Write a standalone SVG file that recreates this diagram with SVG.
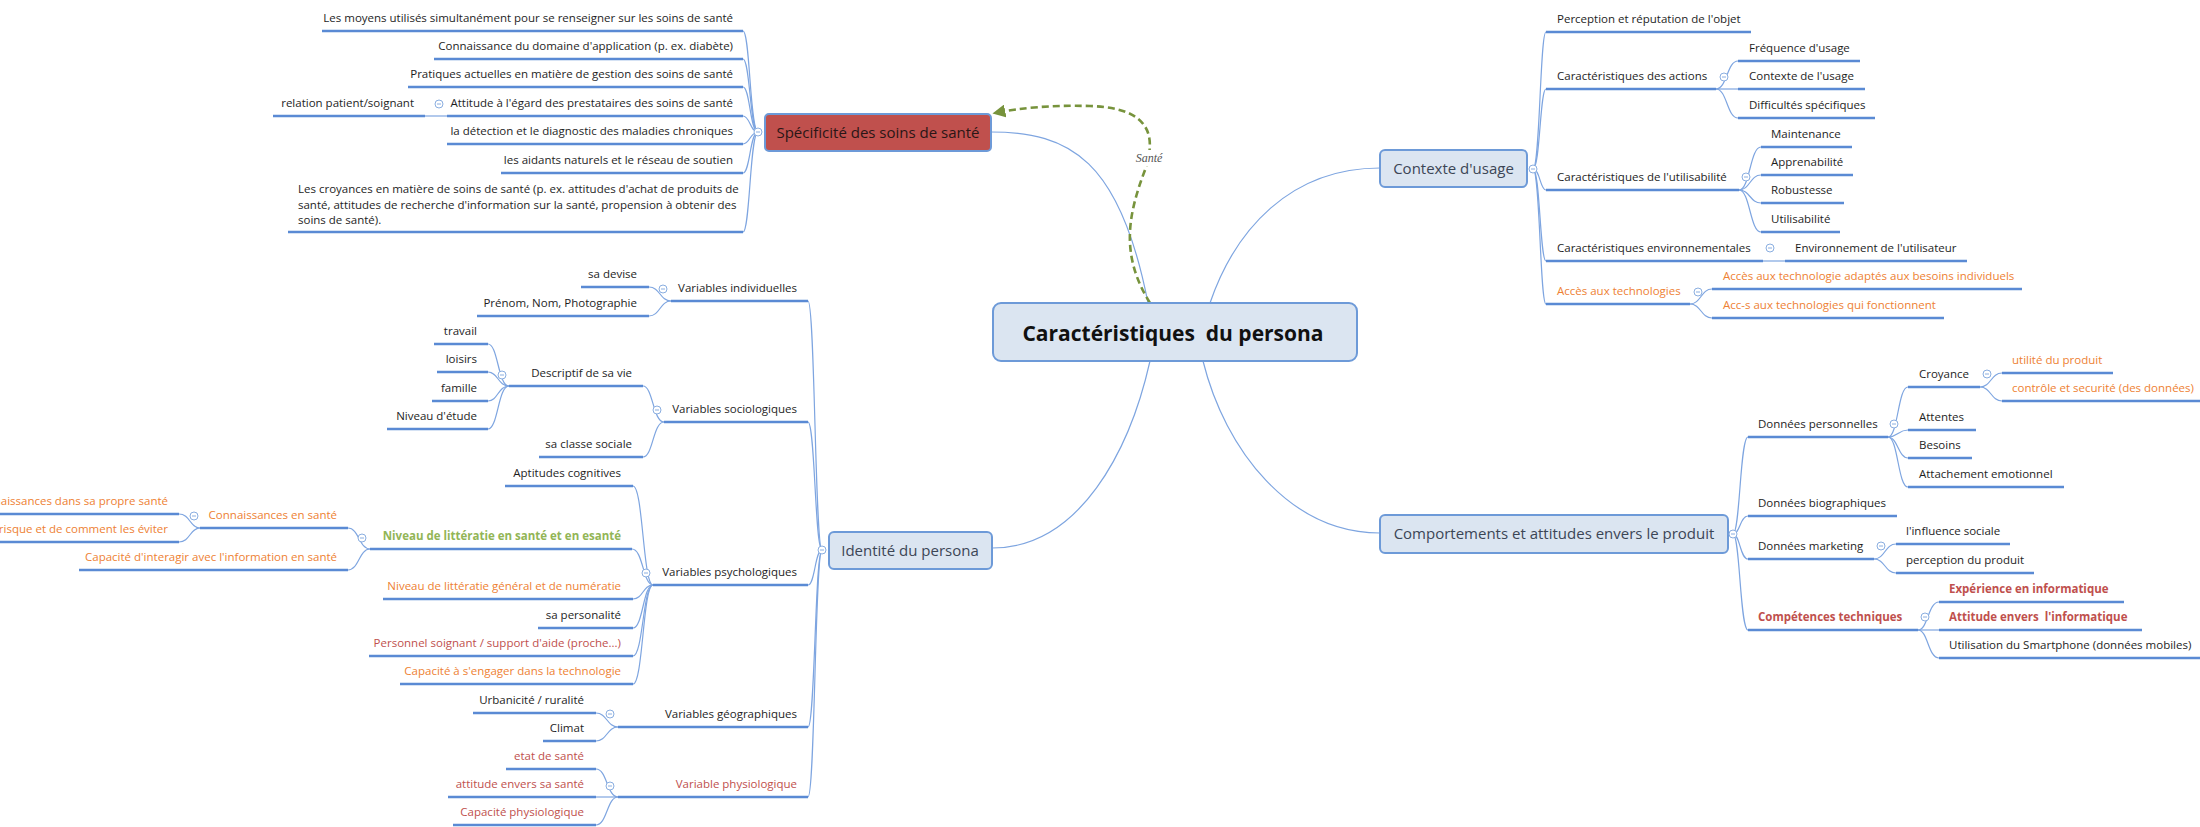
<svg xmlns="http://www.w3.org/2000/svg" width="2200" height="827" viewBox="0 0 2200 827">
<style>
text{font-family:"Open Sans","Noto Sans",sans-serif;font-size:11.5px;fill:#1e1e1e}
.e{text-anchor:end}
.m{text-anchor:middle;font-size:15px;fill:#3c4656}
.o{fill:#ee8133}
.r{fill:#c0504d}
.g{fill:#92b556;font-weight:bold}
.rb{fill:#c0504d;font-weight:bold}
.u{stroke:#5a8ad4;stroke-width:2.6;fill:none}
.c{stroke:#7ea5e0;stroke-width:1.2;fill:none}
.box{fill:#dbe5f1;stroke:#6d9ad8;stroke-width:2}
.k{fill:#fff;stroke:#8aaee0;stroke-width:1}
.title{font-size:21px;font-weight:bold;fill:#111;text-anchor:middle;white-space:pre}
.lbl{font-family:"Liberation Serif",serif;font-style:italic;font-size:12px;fill:#555;text-anchor:middle}
</style>
<defs>
<g id="col"><circle class="k" r="4"/><path d="M-2,0h4" stroke="#8aaee0" stroke-width="1"/></g>
<marker id="ah" viewBox="0 0 10 10" refX="8" refY="5" markerWidth="5" markerHeight="5" orient="auto-start-reverse" markerUnits="strokeWidth">
<path d="M0,0L10,5L0,10z" fill="#77933c"/>
</marker>
</defs>
<rect width="2200" height="827" fill="#fff"/>

<g id="connectors">
<path class="c" d="M1148,303C1120,160 1070,132 991,132"/>
<path class="c" d="M1210,303C1235,230 1290,168 1380,168"/>
<path class="c" d="M1150,361C1130,450 1080,548 992,548"/>
<path class="c" d="M1203,361C1225,450 1290,533 1380,533"/>
<path class="c" d="M758,132C750,132 750,31 743,31"/>
<path class="c" d="M758,132C750,132 750,59 743,59"/>
<path class="c" d="M758,132C750,132 750,87 743,87"/>
<path class="c" d="M758,132C750,132 750,116 743,116"/>
<path class="c" d="M758,132C750,132 750,144 743,144"/>
<path class="c" d="M758,132C750,132 750,173 743,173"/>
<path class="c" d="M758,132C750,132 750,232 743,232"/>
<path class="c" d="M447,116L425,116"/>
<path class="c" d="M822,550C815,550 815,301 808,301"/>
<path class="c" d="M822,550C815,550 815,422 808,422"/>
<path class="c" d="M822,550C815,550 815,585 808,585"/>
<path class="c" d="M822,550C815,550 815,727 808,727"/>
<path class="c" d="M822,550C815,550 815,797 808,797"/>
<path class="c" d="M671,301C660,301 660,287 649,287"/>
<path class="c" d="M671,301C660,301 660,316 649,316"/>
<path class="c" d="M664,422C653,422 653,386 643,386"/>
<path class="c" d="M664,422C653,422 653,457 643,457"/>
<path class="c" d="M509,386C498,386 498,344 488,344"/>
<path class="c" d="M509,386C498,386 498,372 488,372"/>
<path class="c" d="M509,386C498,386 498,401 488,401"/>
<path class="c" d="M509,386C498,386 498,429 488,429"/>
<path class="c" d="M653,585C643,585 643,486 633,486"/>
<path class="c" d="M653,585C643,585 643,549 632,549"/>
<path class="c" d="M653,585C643,585 643,599 633,599"/>
<path class="c" d="M653,585C643,585 643,628 633,628"/>
<path class="c" d="M653,585C643,585 643,656 633,656"/>
<path class="c" d="M653,585C643,585 643,684 633,684"/>
<path class="c" d="M370,549C359,549 359,528 348,528"/>
<path class="c" d="M370,549C359,549 359,570 348,570"/>
<path class="c" d="M200,528C190,528 190,514 179,514"/>
<path class="c" d="M200,528C190,528 190,542 179,542"/>
<path class="c" d="M618,727C607,727 607,713 596,713"/>
<path class="c" d="M618,727C607,727 607,741 596,741"/>
<path class="c" d="M618,797C607,797 607,769 596,769"/>
<path class="c" d="M618,797L596,797"/>
<path class="c" d="M618,797C607,797 607,825 596,825"/>
<path class="c" d="M1533,169C1540,169 1540,32 1546,32"/>
<path class="c" d="M1533,169C1540,169 1540,89 1546,89"/>
<path class="c" d="M1533,169C1540,169 1540,190 1546,190"/>
<path class="c" d="M1533,169C1540,169 1540,261 1546,261"/>
<path class="c" d="M1533,169C1540,169 1540,304 1546,304"/>
<path class="c" d="M1716,89C1727,89 1727,61 1738,61"/>
<path class="c" d="M1716,89L1738,89"/>
<path class="c" d="M1716,89C1727,89 1727,118 1738,118"/>
<path class="c" d="M1739,190C1750,190 1750,147 1761,147"/>
<path class="c" d="M1739,190C1750,190 1750,175 1761,175"/>
<path class="c" d="M1739,190C1750,190 1750,203 1761,203"/>
<path class="c" d="M1739,190C1750,190 1750,232 1761,232"/>
<path class="c" d="M1763,261L1785,261"/>
<path class="c" d="M1690,304C1701,304 1701,289 1712,289"/>
<path class="c" d="M1690,304C1701,304 1701,318 1712,318"/>
<path class="c" d="M1733,534C1740,534 1740,437 1748,437"/>
<path class="c" d="M1733,534C1740,534 1740,516 1748,516"/>
<path class="c" d="M1733,534C1740,534 1740,559 1748,559"/>
<path class="c" d="M1733,534C1740,534 1740,630 1748,630"/>
<path class="c" d="M1888,437C1898,437 1898,387 1908,387"/>
<path class="c" d="M1888,437C1898,437 1898,430 1908,430"/>
<path class="c" d="M1888,437C1898,437 1898,458 1908,458"/>
<path class="c" d="M1888,437C1898,437 1898,487 1908,487"/>
<path class="c" d="M1980,387C1991,387 1991,373 2002,373"/>
<path class="c" d="M1980,387C1991,387 1991,401 2002,401"/>
<path class="c" d="M1874,559C1885,559 1885,544 1896,544"/>
<path class="c" d="M1874,559C1885,559 1885,573 1896,573"/>
<path class="c" d="M1918,630C1928,630 1928,602 1939,602"/>
<path class="c" d="M1918,630L1939,630"/>
<path class="c" d="M1918,630C1928,630 1928,658 1939,658"/>
<path d="M1150,303C1120,255 1128,215 1145,170C1155,140 1155,108 1090,106C1050,105 1020,108 995,113" fill="none" stroke="#77933c" stroke-width="2.6" stroke-dasharray="7,4" marker-end="url(#ah)"/>
<rect x="1130" y="150" width="38" height="16" fill="#fff"/>
<text class="lbl" x="1149" y="162">Santé</text>
</g>

<g id="n-central">
<rect x="993" y="303" width="364" height="58" rx="8" class="box"/>
<text class="title" x="1173" y="341">Caractéristiques  du persona</text>
</g>

<g id="n-specificite">
<rect x="765" y="114" width="226" height="37" rx="4" fill="#c0504d" stroke="#6d9ad8" stroke-width="2"/>
<text class="m" x="878" y="137.5" style="fill:#2a1616">Spécificité des soins de santé</text>
<use href="#col" x="758" y="132"/>
</g>
<g id="n-s1"><path class="u" d="M322,31H743"/><text class="e" x="733" y="22">Les moyens utilisés simultanément pour se renseigner sur les soins de santé</text></g>
<g id="n-s2"><path class="u" d="M434,59H743"/><text class="e" x="733" y="50">Connaissance du domaine d'application (p. ex. diabète)</text></g>
<g id="n-s3"><path class="u" d="M408,87H743"/><text class="e" x="733" y="78">Pratiques actuelles en matière de gestion des soins de santé</text></g>
<g id="n-s4"><path class="u" d="M447,116H743"/><text class="e" x="733" y="107">Attitude à l'égard des prestataires des soins de santé</text><use href="#col" x="439" y="104"/></g>
<g id="n-s4a"><path class="u" d="M273,116H425"/><text class="e" x="414" y="107">relation patient/soignant</text></g>
<g id="n-s5"><path class="u" d="M447,144H743"/><text class="e" x="733" y="135">la détection et le diagnostic des maladies chroniques</text></g>
<g id="n-s6"><path class="u" d="M501,173H743"/><text class="e" x="733" y="164">les aidants naturels et le réseau de soutien</text></g>
<g id="n-s7"><path class="u" d="M288,232H743"/>
<text x="298" y="193">Les croyances en matière de soins de santé (p. ex. attitudes d'achat de produits de</text>
<text x="298" y="208.5">santé, attitudes de recherche d'information sur la santé, propension à obtenir des</text>
<text x="298" y="224">soins de santé).</text></g>

<g id="n-identite">
<rect x="829" y="532" width="163" height="37" rx="5" class="box"/>
<text class="m" x="910" y="555.5">Identité du persona</text>
<use href="#col" x="822" y="550"/>
</g>
<g id="n-vind"><path class="u" d="M671,301H808"/><text class="e" x="797" y="292">Variables individuelles</text><use href="#col" x="663" y="289"/></g>
<g id="n-devise"><path class="u" d="M581,287H649"/><text class="e" x="637" y="278">sa devise</text></g>
<g id="n-prenom"><path class="u" d="M477,316H649"/><text class="e" x="637" y="307">Prénom, Nom, Photographie</text></g>
<g id="n-vsoc"><path class="u" d="M664,422H808"/><text class="e" x="797" y="413">Variables sociologiques</text><use href="#col" x="657" y="410"/></g>
<g id="n-descr"><path class="u" d="M509,386H643"/><text class="e" x="632" y="377">Descriptif de sa vie</text><use href="#col" x="502" y="375"/></g>
<g id="n-travail"><path class="u" d="M434,344H488"/><text class="e" x="477" y="335">travail</text></g>
<g id="n-loisirs"><path class="u" d="M437,372H488"/><text class="e" x="477" y="363">loisirs</text></g>
<g id="n-famille"><path class="u" d="M432,401H488"/><text class="e" x="477" y="392">famille</text></g>
<g id="n-etude"><path class="u" d="M387,429H488"/><text class="e" x="477" y="420">Niveau d'étude</text></g>
<g id="n-classe"><path class="u" d="M539,457H643"/><text class="e" x="632" y="448">sa classe sociale</text></g>
<g id="n-vpsy"><path class="u" d="M653,585H808"/><text class="e" x="797" y="576">Variables psychologiques</text><use href="#col" x="646" y="573"/></g>
<g id="n-aptitudes"><path class="u" d="M505,486H633"/><text class="e" x="621" y="477">Aptitudes cognitives</text></g>
<g id="n-niveau"><path class="u" d="M370,549H632"/><text class="e g" x="621" y="540">Niveau de littératie en santé et en esanté</text><use href="#col" x="362" y="538"/></g>
<g id="n-connsante"><path class="u" d="M200,528H348"/><text class="e o" x="337" y="519">Connaissances en santé</text><use href="#col" x="194" y="516"/></g>
<g id="n-conn1"><path class="u" d="M0,514H179"/><text class="e o" x="168" y="505">Connaissances dans sa propre santé</text></g>
<g id="n-conn2"><path class="u" d="M0,542H179"/><text class="e o" x="168" y="533">Connaissance des facteurs de risque et de comment les éviter</text></g>
<g id="n-interagir"><path class="u" d="M79,570H348"/><text class="e o" x="337" y="561">Capacité d'interagir avec l'information en santé</text></g>
<g id="n-numeratie"><path class="u" d="M383,599H633"/><text class="e o" x="621" y="590">Niveau de littératie général et de numératie</text></g>
<g id="n-perso"><path class="u" d="M538,628H633"/><text class="e" x="621" y="619">sa personalité</text></g>
<g id="n-soignant"><path class="u" d="M369,656H633"/><text class="e r" x="621" y="647">Personnel soignant / support d'aide (proche...)</text></g>
<g id="n-engager"><path class="u" d="M400,684H633"/><text class="e o" x="621" y="675">Capacité à s'engager dans la technologie</text></g>
<g id="n-vgeo"><path class="u" d="M618,727H808"/><text class="e" x="797" y="718">Variables géographiques</text><use href="#col" x="610" y="714"/></g>
<g id="n-urb"><path class="u" d="M473,713H596"/><text class="e" x="584" y="704">Urbanicité / ruralité</text></g>
<g id="n-climat"><path class="u" d="M543,741H596"/><text class="e" x="584" y="732">Climat</text></g>
<g id="n-vphy"><path class="u" d="M618,797H808"/><text class="e r" x="797" y="788">Variable physiologique</text><use href="#col" x="610" y="786"/></g>
<g id="n-etat"><path class="u" d="M506,769H596"/><text class="e r" x="584" y="760">etat de santé</text></g>
<g id="n-attsante"><path class="u" d="M448,797H596"/><text class="e r" x="584" y="788">attitude envers sa santé</text></g>
<g id="n-capphy"><path class="u" d="M453,825H596"/><text class="e r" x="584" y="816">Capacité physiologique</text></g>

<g id="n-contexte">
<rect x="1380" y="150" width="147" height="37" rx="5" class="box"/>
<text class="m" x="1453.5" y="173.5">Contexte d'usage</text>
<use href="#col" x="1533" y="169"/>
</g>
<g id="n-percep"><path class="u" d="M1546,32H1751"/><text x="1557" y="23">Perception et réputation de l'objet</text></g>
<g id="n-actions"><path class="u" d="M1546,89H1716"/><text x="1557" y="80">Caractéristiques des actions</text><use href="#col" x="1724" y="77"/></g>
<g id="n-freq"><path class="u" d="M1738,61H1860"/><text x="1749" y="52">Fréquence d'usage</text></g>
<g id="n-ctxusage"><path class="u" d="M1738,89H1865"/><text x="1749" y="80">Contexte de l'usage</text></g>
<g id="n-diff"><path class="u" d="M1738,118H1875"/><text x="1749" y="109">Difficultés spécifiques</text></g>
<g id="n-util"><path class="u" d="M1546,190H1739"/><text x="1557" y="181">Caractéristiques de l'utilisabilité</text><use href="#col" x="1746" y="177"/></g>
<g id="n-maint"><path class="u" d="M1761,147H1852"/><text x="1771" y="138">Maintenance</text></g>
<g id="n-appr"><path class="u" d="M1761,175H1853"/><text x="1771" y="166">Apprenabilité</text></g>
<g id="n-robu"><path class="u" d="M1761,203H1844"/><text x="1771" y="194">Robustesse</text></g>
<g id="n-utilis"><path class="u" d="M1761,232H1840"/><text x="1771" y="223">Utilisabilité</text></g>
<g id="n-env"><path class="u" d="M1546,261H1763"/><text x="1557" y="252">Caractéristiques environnementales</text><use href="#col" x="1770" y="248"/></g>
<g id="n-envuser"><path class="u" d="M1785,261H1967"/><text x="1795" y="252">Environnement de l'utilisateur</text></g>
<g id="n-acces"><path class="u" d="M1546,304H1690"/><text class="o" x="1557" y="295">Accès aux technologies</text><use href="#col" x="1698" y="292"/></g>
<g id="n-acces1"><path class="u" d="M1712,289H2022"/><text class="o" x="1723" y="280">Accès aux technologie adaptés aux besoins individuels</text></g>
<g id="n-acces2"><path class="u" d="M1712,318H1944"/><text class="o" x="1723" y="309">Acc-s aux technologies qui fonctionnent</text></g>

<g id="n-comport">
<rect x="1380" y="515" width="348" height="38" rx="5" class="box"/>
<text class="m" x="1554" y="539">Comportements et attitudes envers le produit</text>
<use href="#col" x="1733" y="534"/>
</g>
<g id="n-dperso"><path class="u" d="M1748,437H1888"/><text x="1758" y="428">Données personnelles</text><use href="#col" x="1894" y="424"/></g>
<g id="n-croy"><path class="u" d="M1908,387H1980"/><text x="1919" y="378">Croyance</text><use href="#col" x="1987" y="374"/></g>
<g id="n-utilite"><path class="u" d="M2002,373H2113"/><text class="o" x="2012" y="364">utilité du produit</text></g>
<g id="n-controle"><path class="u" d="M2002,401H2200"/><text class="o" x="2012" y="392">contrôle et securité (des données)</text></g>
<g id="n-attentes"><path class="u" d="M1908,430H1976"/><text x="1919" y="421">Attentes</text></g>
<g id="n-besoins"><path class="u" d="M1908,458H1972"/><text x="1919" y="449">Besoins</text></g>
<g id="n-attach"><path class="u" d="M1908,487H2064"/><text x="1919" y="478">Attachement emotionnel</text></g>
<g id="n-dbio"><path class="u" d="M1748,516H1897"/><text x="1758" y="507">Données biographiques</text></g>
<g id="n-dmark"><path class="u" d="M1748,559H1874"/><text x="1758" y="550">Données marketing</text><use href="#col" x="1881" y="546"/></g>
<g id="n-influ"><path class="u" d="M1896,544H2010"/><text x="1906" y="535">l'influence sociale</text></g>
<g id="n-percprod"><path class="u" d="M1896,573H2034"/><text x="1906" y="564">perception du produit</text></g>
<g id="n-comp"><path class="u" d="M1748,630H1918"/><text class="rb" x="1758" y="621">Compétences techniques</text><use href="#col" x="1925" y="617"/></g>
<g id="n-exp"><path class="u" d="M1939,602H2124"/><text class="rb" x="1949" y="593">Expérience en informatique</text></g>
<g id="n-attinfo"><path class="u" d="M1939,630H2142"/><text class="rb" x="1949" y="621" style="white-space:pre">Attitude envers  l'informatique</text></g>
<g id="n-smart"><path class="u" d="M1939,658H2200"/><text x="1949" y="649">Utilisation du Smartphone (données mobiles)</text></g>
</svg>
